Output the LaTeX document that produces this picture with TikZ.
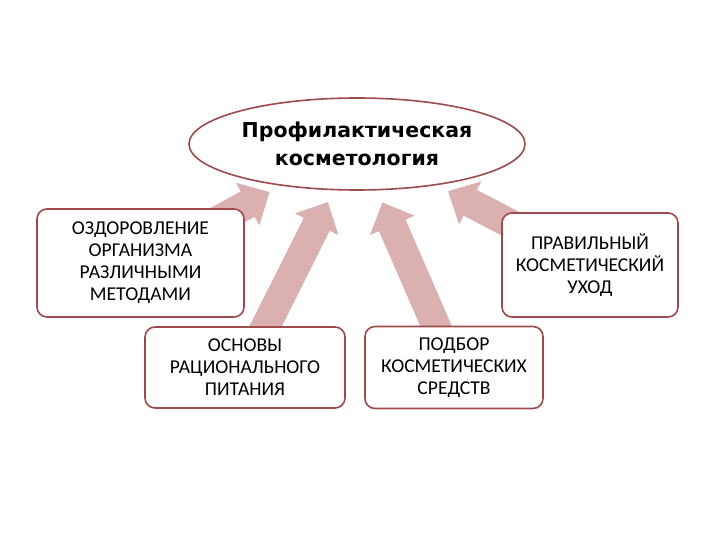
\documentclass[tikz,border=0pt]{standalone}
\usepackage{fontspec}
\setmainfont{Carlito}
\newfontfamily\titlefont{DejaVu Sans}
\usetikzlibrary{shapes.geometric,arrows.meta,backgrounds}
\definecolor{edgec}{HTML}{9E4A4C}
\definecolor{arrc}{HTML}{DBB0B0}
\begin{document}
\begin{tikzpicture}[x=1pt,y=-1pt,
  box/.style={draw=edgec, line width=1.6pt, rounded corners=10pt, fill=white,
    align=center, inner sep=0pt, font=\fontsize{19.6}{22}\selectfont},
  title/.style={ellipse, draw=edgec, line width=1.6pt, fill=white, inner sep=0pt,
    align=center, font=\titlefont\bfseries\fontsize{20.5}{27.5}\selectfont},
  bigarrow/.style={arrc, line width=29pt, shorten >=13pt,
    -{Triangle[width=47pt,length=25pt]}}]
\useasboundingbox (0,0) rectangle (720,540);
\node[title, minimum width=336pt, minimum height=92pt] (E) at (357,144)
  {Профилактическая\\косметология};
\node[box, minimum width=207pt, minimum height=108pt] (A) at (140.5,263)
  {ОЗДОРОВЛЕНИЕ\\ОРГАНИЗМА\\РАЗЛИЧНЫМИ\\МЕТОДАМИ};
\node[box, minimum width=200pt, minimum height=81pt] (B) at (245,367.5)
  {ОСНОВЫ\\РАЦИОНАЛЬНОГО\\ПИТАНИЯ};
\node[box, minimum width=178pt, minimum height=82pt] (C) at (454,367.5)
  {ПОДБОР\\КОСМЕТИЧЕСКИХ\\СРЕДСТВ};
\node[box, minimum width=176pt, minimum height=104pt] (D) at (590,265)
  {ПРАВИЛЬНЫЙ\\КОСМЕТИЧЕСКИЙ\\УХОД};
\begin{scope}[on background layer]
\draw[bigarrow] (A.center) -- (E);
\draw[bigarrow] (B.center) -- (E);
\draw[bigarrow] (C.center) -- (E);
\draw[bigarrow] (D.center) -- (E);
\end{scope}
\end{tikzpicture}
\end{document}
